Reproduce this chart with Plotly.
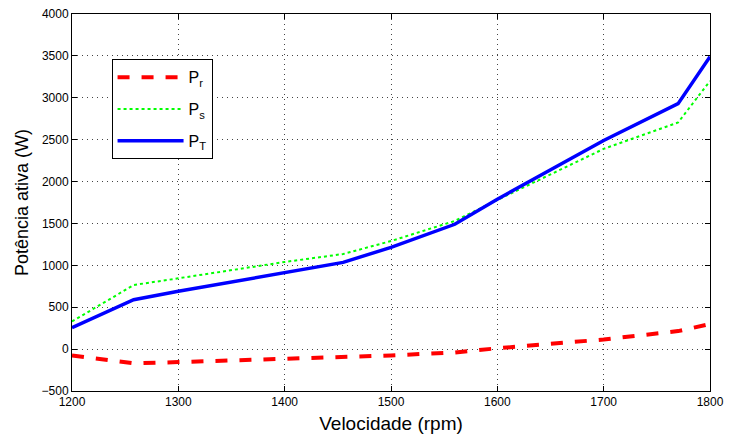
import plotly.graph_objects as go

# Rotor speed (rpm)
rpm = [1200, 1258, 1300, 1400, 1455, 1500, 1560, 1600, 1700, 1770, 1800]

# Active power (W)
p_rotor = [-75, -170, -155, -118, -100, -75, -40, 10, 115, 215, 300]
p_stator = [330, 765, 845, 1040, 1135, 1290, 1530, 1780, 2390, 2705, 3200]
p_total = [255, 590, 690, 910, 1035, 1215, 1490, 1790, 2490, 2930, 3490]

FONT = "Liberation Sans, Arial, sans-serif"

fig = go.Figure()
fig.add_trace(go.Scatter(x=rpm, y=p_rotor, mode="lines", name="P<sub>r</sub>",
                         legendgroup="r",
                         line=dict(color="#ff0000", width=4, dash="dash")))
fig.add_trace(go.Scatter(x=rpm, y=p_stator, mode="lines", name="P<sub>s</sub>",
                         legendgroup="s",
                         line=dict(color="#00ff00", width=2, dash="dot")))
fig.add_trace(go.Scatter(x=rpm, y=p_total, mode="lines", name="P<sub>T</sub>",
                         legendgroup="t",
                         line=dict(color="#0000ff", width=3.5)))

axis_common = dict(
    showline=True, linecolor="black", linewidth=1, mirror="ticks",
    ticks="inside", ticklen=5, tickcolor="black",
    showgrid=True, gridcolor="#444444", griddash="1px,4px", gridwidth=1,
    zeroline=False,
    tickfont=dict(family=FONT, size=12, color="black"),
)

fig.update_xaxes(range=[1200, 1800], dtick=100,
                 title=dict(text="Velocidade (rpm)", standoff=8,
                            font=dict(family=FONT, size=19, color="black")),
                 **axis_common)
fig.update_yaxes(range=[-500, 4000], dtick=500,
                 title=dict(text="Potência ativa (W)", standoff=8,
                            font=dict(family=FONT, size=18, color="black")),
                 **axis_common)

fig.update_layout(
    width=731, height=443,
    margin=dict(l=72, r=17, t=7, b=52),
    paper_bgcolor="white", plot_bgcolor="white",
    showlegend=True,
    legend=dict(x=0.062, y=0.88, xanchor="left", yanchor="top",
                bgcolor="white", bordercolor="black", borderwidth=1,
                tracegroupgap=8, itemwidth=66,
                font=dict(family=FONT, size=16, color="black")),
)

fig.write_html("out.html")
